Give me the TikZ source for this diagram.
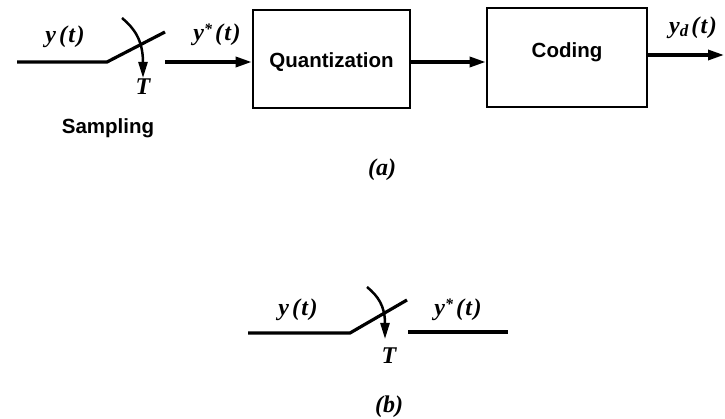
\documentclass[tikz,border=0pt]{standalone}
\usepackage{fontspec}
\newfontfamily\boxfont{Liberation Sans}
\newfontfamily\lblfont{Liberation Serif}
\newcommand{\sgl}[1]{#1\kern3pt(\kern1.5pt t\kern1.5pt)}
\usetikzlibrary{arrows.meta}
\tikzset{
  sig/.style={line width=3.2pt},
  sigarrow/.style={line width=3.2pt,-{Triangle[length=16pt,width=10pt]}},
  swarrow/.style={line width=2.5pt,-{Triangle[length=16pt,width=9pt]}},
  blk/.style={draw,line width=2.6pt,inner sep=0pt},
  lbl/.style={anchor=base,inner sep=0pt,font=\fontsize{24}{28}\selectfont\lblfont\bfseries\itshape},
  txt/.style={anchor=base,inner sep=0pt,font=\fontsize{20.5}{24}\selectfont\boxfont\bfseries},
}
\begin{document}
\begin{tikzpicture}[x=1pt,y=-1pt]
\useasboundingbox (0,0) rectangle (725,419);
% ---------- (a)
\node[blk,minimum width=157pt,minimum height=98pt] (quant) at (331.5,59) {};
\node[blk,minimum width=160pt,minimum height=99pt] (cod) at (567,57.5) {};
\node[txt] (qtxt) at (331.5,68) {Quantization};
\node[txt] (ctxt) at (567,58) {Coding};

\coordinate (ain) at (17,62);
\coordinate (apiv) at (107,62);
\coordinate (aarm) at (165,32);
\coordinate (aout) at (165,62);
\coordinate (acs) at (122,18);
\coordinate (ace) at (143,78);
\coordinate (qout) at (410,62);
\coordinate (cout) at (647,55);
\coordinate (yend) at (724,55);

\draw[sig] (ain) -- (apiv) -- (aarm);
\draw[swarrow] (acs) .. controls (134,28) and (143,40) .. (ace);
\draw[sigarrow] (aout) -- (aout -| quant.west);
\draw[sigarrow] (qout -| quant.east) -- (qout -| cod.west);
\draw[sigarrow] (cout -| cod.east) -- (yend);

\node[lbl] (ya) at (65,43) {\sgl{y}};
\node[lbl] (ysa) at (217,41) {\sgl{y\raisebox{6pt}{\fontsize{16}{16}\selectfont *}}};
\node[lbl] (yd) at (693,34) {\sgl{y\raisebox{-3pt}{\fontsize{17}{17}\selectfont d}}};
\node[lbl] (ta) at (143,95) {T};
\node[txt] (samp) at (108,134) {Sampling};
\node[lbl] (la) at (382,176) {(a)};

% ---------- (b)
\coordinate (bin) at (248,333);
\coordinate (bpiv) at (350,333);
\coordinate (barm) at (407,300);
\coordinate (bos) at (408,332);
\coordinate (boe) at (508,332);
\coordinate (bcs) at (367,287);
\coordinate (bce) at (385,339);

\draw[sig] (bin) -- (bpiv) -- (barm);
\draw[sig] (bos) -- (boe);
\draw[swarrow] (bcs) .. controls (378,296) and (385,306) .. (bce);

\node[lbl] (yb) at (298,316) {\sgl{y}};
\node[lbl] (ysb) at (458,316) {\sgl{y\raisebox{6pt}{\fontsize{16}{16}\selectfont *}}};
\node[lbl] (tb) at (389,363) {T};
\node[lbl] (lb) at (389,412) {(b)};
\end{tikzpicture}
\end{document}
